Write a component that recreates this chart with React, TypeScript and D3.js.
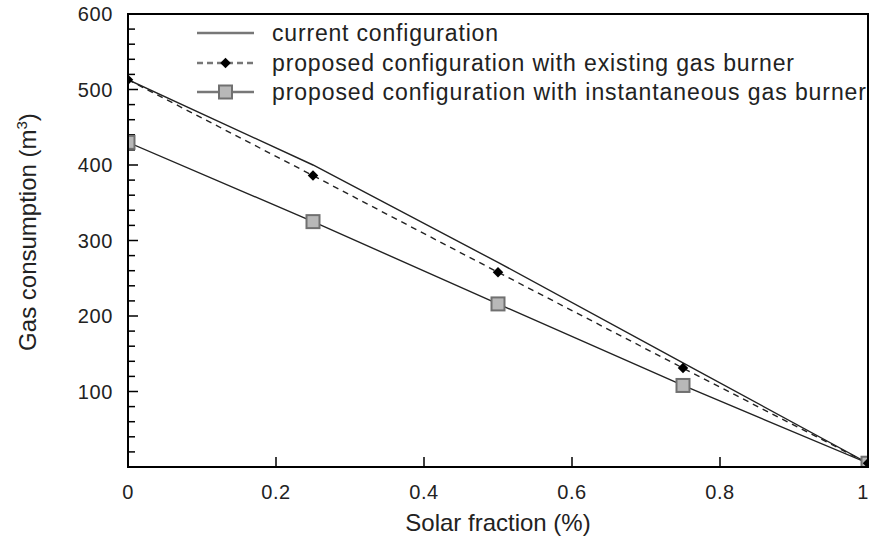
import { useEffect, useRef } from 'react';
import * as d3 from 'd3';

const solarFraction = [0, 0.25, 0.5, 0.75, 1];
const currentConfig = [513, 400, 271, 138, 5];
const existingBurner = [513, 386, 258, 131, 5];
const instantBurner = [430, 325, 216, 108, 5];

const xTicks = [0, 0.2, 0.4, 0.6, 0.8, 1];
const yTicks = [100, 200, 300, 400, 500, 600];

const legendLabels = [
  'current configuration',
  'proposed configuration with existing gas burner',
  'proposed configuration with instantaneous gas burner',
];
// measured text widths in the reference
const legendWidths = [226, 522, 594];

const W = 872;
const H = 537;
const margin = { top: 14, right: 4, bottom: 70, left: 128 };

const App = () => {
  const svgRef = useRef<SVGSVGElement | null>(null);

  useEffect(() => {
    if (!svgRef.current) return;
    const svg = d3.select(svgRef.current);
    svg.selectAll('*').remove();

    const font = "'Liberation Sans', Arial, sans-serif";
    const x = d3.scaleLinear().domain([0, 1]).range([margin.left, W - margin.right]);
    const y = d3.scaleLinear().domain([0, 600]).range([H - margin.bottom, margin.top]);

    svg.append('defs').append('clipPath').attr('id', 'plot-clip')
      .append('rect')
      .attr('x', x(0)).attr('y', y(600))
      .attr('width', x(1) - x(0)).attr('height', y(0) - y(600));

    // y ticks (major + minor), pointing inward
    const yMinor = d3.range(20, 600, 20);
    svg.append('g').selectAll('line').data(yMinor).join('line')
      .attr('x1', x(0)).attr('x2', d => x(0) + (d % 100 === 0 ? 10 : 7))
      .attr('y1', d => y(d)).attr('y2', d => y(d))
      .attr('stroke', '#000').attr('stroke-width', 1.5);

    svg.append('g').selectAll('text').data(yTicks).join('text')
      .attr('x', x(0) - 15).attr('y', d => y(d)).attr('dy', '0.36em')
      .attr('text-anchor', 'end').attr('font-family', font).attr('font-size', 20)
      .attr('letter-spacing', 0.6)
      .attr('fill', '#222').text(d => d);

    // x ticks
    svg.append('g').selectAll('line').data(xTicks.slice(1, -1)).join('line')
      .attr('x1', d => x(d)).attr('x2', d => x(d))
      .attr('y1', y(0)).attr('y2', y(0) - 10)
      .attr('stroke', '#000').attr('stroke-width', 1.5);

    svg.append('g').selectAll('text').data(xTicks).join('text')
      .attr('x', d => Math.min(x(d), W - 9)).attr('y', 499)
      .attr('text-anchor', 'middle').attr('font-family', font).attr('font-size', 20)
      .attr('letter-spacing', 0.6)
      .attr('fill', '#222').text(d => String(d));

    // axis titles
    svg.append('text')
      .attr('x', (x(0) + x(1)) / 2).attr('y', 531)
      .attr('text-anchor', 'middle').attr('font-family', font).attr('font-size', 24)
      .attr('fill', '#222').text('Solar fraction (%)');

    const yl = svg.append('text')
      .attr('transform', `translate(36,${232}) rotate(-90)`)
      .attr('text-anchor', 'middle').attr('font-family', font).attr('font-size', 24)
      .attr('fill', '#222');
    yl.append('tspan').text('Gas consumption (m');
    yl.append('tspan').attr('font-size', 15).attr('dy', -9).text('3');
    yl.append('tspan').attr('dy', 9).text(')');

    const line = d3.line<[number, number]>().x(d => x(d[0])).y(d => y(d[1]));
    const pts = (vals: number[]) => solarFraction.map((s, i) => [s, vals[i]] as [number, number]);

    const plot = svg.append('g').attr('clip-path', 'url(#plot-clip)');
    plot.append('path').attr('d', line(pts(currentConfig)))
      .attr('fill', 'none').attr('stroke', '#222').attr('stroke-width', 1.4);
    plot.append('path').attr('d', line(pts(existingBurner)))
      .attr('fill', 'none').attr('stroke', '#222').attr('stroke-width', 1.4)
      .attr('stroke-dasharray', '6,5');
    plot.append('path').attr('d', line(pts(instantBurner)))
      .attr('fill', 'none').attr('stroke', '#222').attr('stroke-width', 1.4);

    const sq = 13;
    plot.append('g').selectAll('rect').data(pts(instantBurner)).join('rect')
      .attr('x', d => x(d[0]) - sq / 2).attr('y', d => y(d[1]) - sq / 2)
      .attr('width', sq).attr('height', sq)
      .attr('fill', '#b8b8b8').attr('stroke', '#707070').attr('stroke-width', 2);

    const diamond = d3.symbol().type(d3.symbolDiamond2).size(70);
    plot.append('g').selectAll('path').data(pts(existingBurner)).join('path')
      .attr('transform', d => `translate(${x(d[0])},${y(d[1])})`)
      .attr('d', diamond()).attr('fill', '#000');

    // frame on top
    svg.append('rect')
      .attr('x', x(0)).attr('y', y(600))
      .attr('width', x(1) - x(0)).attr('height', y(0) - y(600))
      .attr('fill', 'none').attr('stroke', '#000').attr('stroke-width', 2);

    // legend
    const lg = svg.append('g');
    const rowY = [33, 63, 92];
    const lx0 = 197, lx1 = 254, tx = 272;
    legendLabels.forEach((label, i) => {
      const g = lg.append('g');
      const ly = rowY[i];
      g.append('line').attr('x1', lx0).attr('x2', lx1).attr('y1', ly).attr('y2', ly)
        .attr('stroke', '#777').attr('stroke-width', 2.4)
        .attr('stroke-dasharray', i === 1 ? '6,4' : null);
      if (i === 1) {
        g.append('path').attr('transform', `translate(${(lx0 + lx1) / 2},${ly})`)
          .attr('d', diamond()).attr('fill', '#000');
      }
      if (i === 2) {
        g.append('rect').attr('x', (lx0 + lx1) / 2 - sq / 2).attr('y', ly - sq / 2)
          .attr('width', sq).attr('height', sq)
          .attr('fill', '#b8b8b8').attr('stroke', '#707070').attr('stroke-width', 2);
      }
      g.append('text').attr('x', tx).attr('y', ly).attr('dy', '0.36em')
        .attr('font-family', font).attr('font-size', 23).attr('fill', '#222')
        .attr('textLength', legendWidths[i]).attr('lengthAdjust', 'spacing')
        .text(label);
    });
  }, []);

  return (
    <svg ref={svgRef} width={W} height={H}
      style={{ position: 'absolute', left: 0, top: 0, background: '#fff' }} />
  );
};

export default App;
